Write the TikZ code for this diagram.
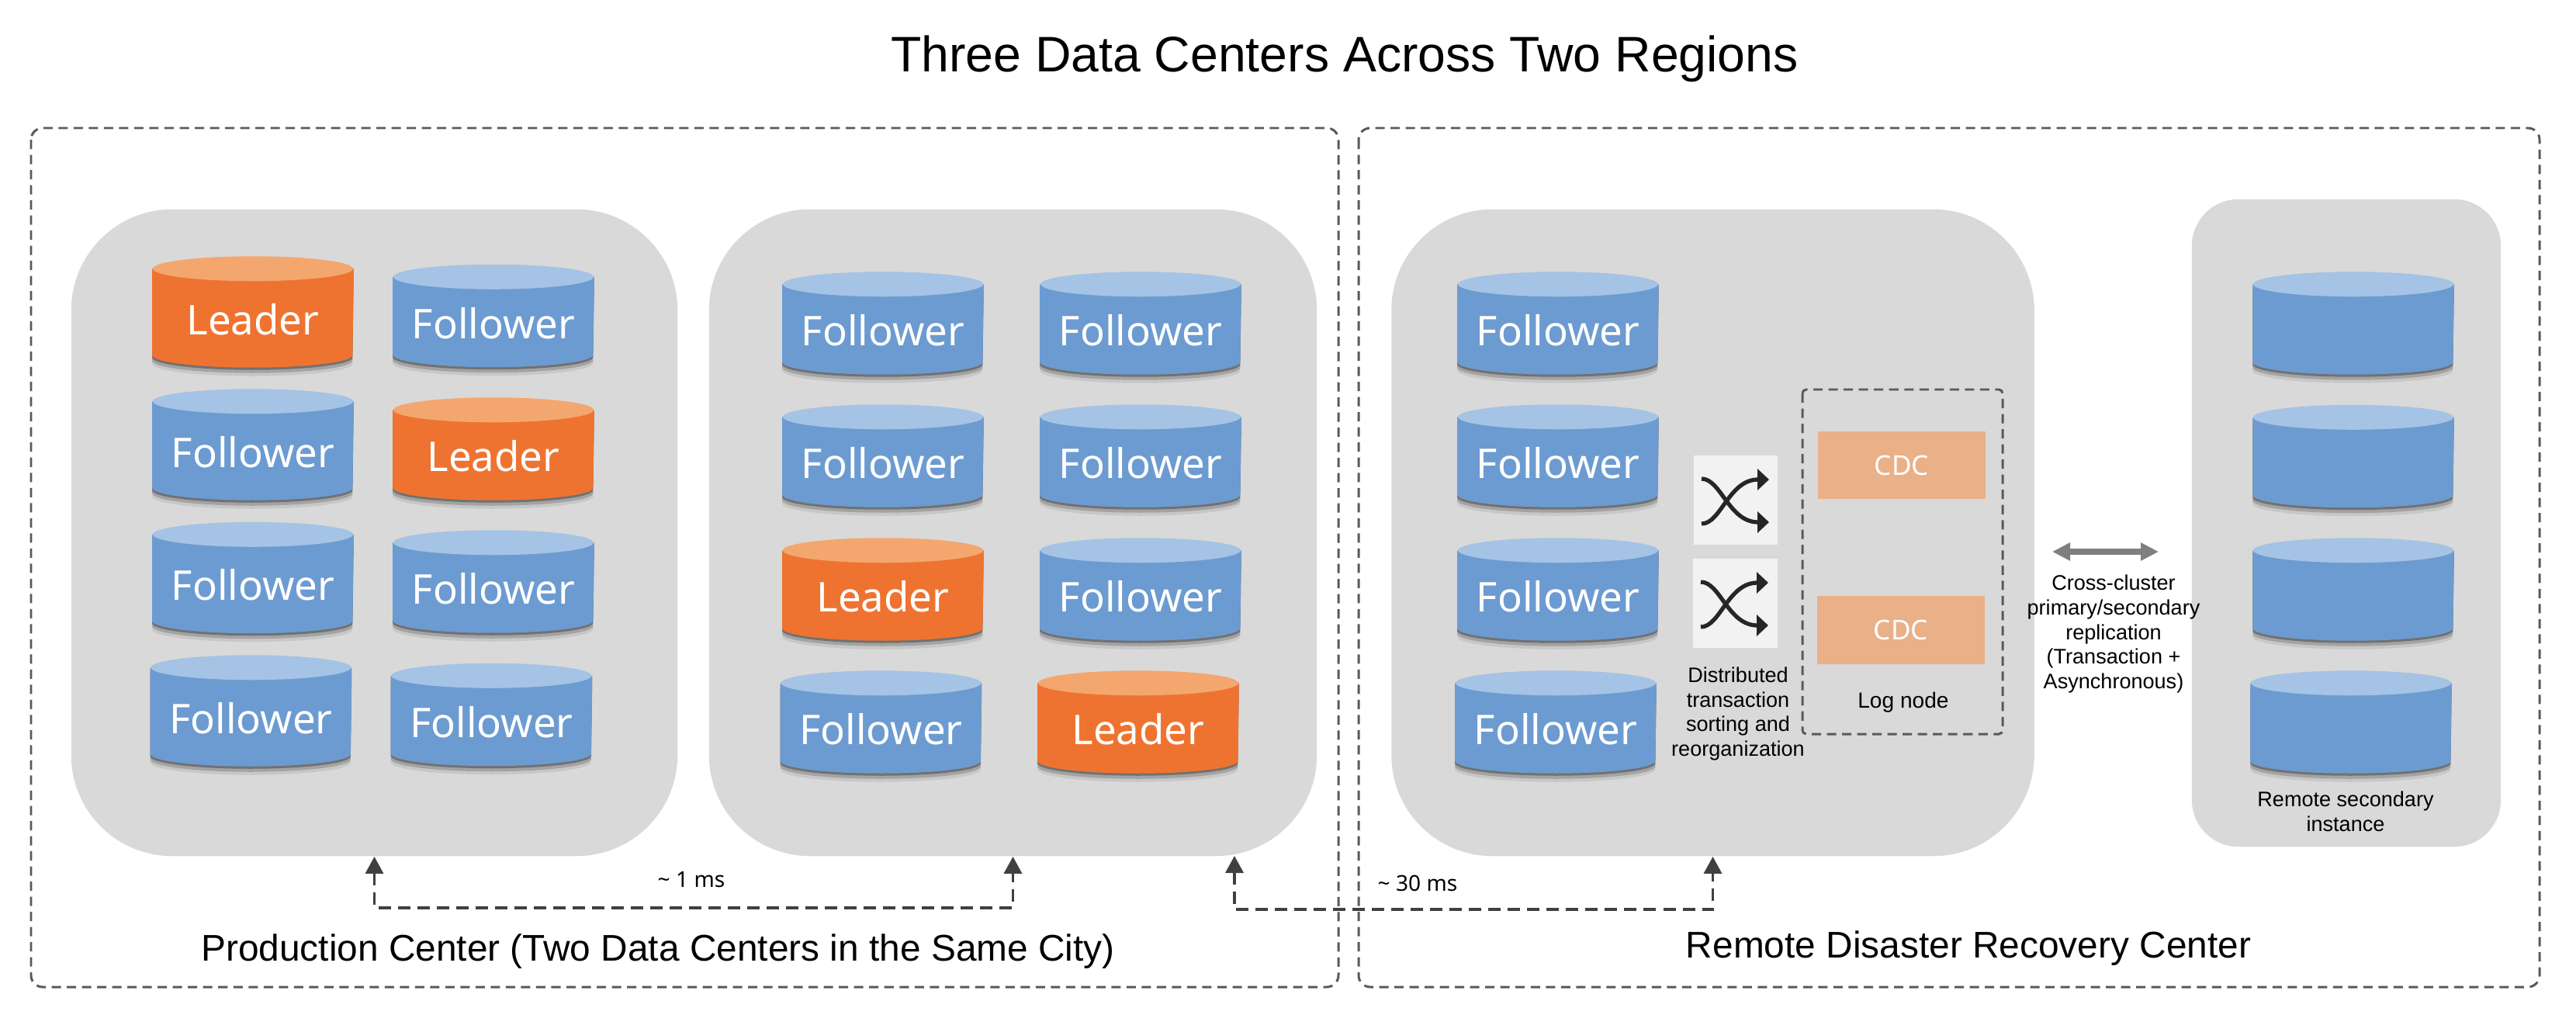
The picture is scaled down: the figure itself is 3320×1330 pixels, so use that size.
\documentclass[tikz,border=0pt]{standalone}
\usepackage{fontspec}
\usepackage{xcolor}
\usetikzlibrary{arrows.meta,shadows,calc}
\setmainfont{Liberation Sans}
\newfontfamily\dbfont{Noto Sans}
\definecolor{panelbg}{HTML}{D9D9D9}
\definecolor{blueside}{HTML}{6C9BD1}
\definecolor{bluetop}{HTML}{A5C3E4}
\definecolor{orangeside}{HTML}{EF7330}
\definecolor{orangetop}{HTML}{F3A76F}
\definecolor{cdcbg}{HTML}{EAB088}
\definecolor{tilebg}{HTML}{F2F2F2}
\definecolor{inkdark}{HTML}{262626}
\definecolor{linkdark}{HTML}{404040}
\definecolor{frameline}{HTML}{595959}
\definecolor{duplex}{HTML}{7F7F7F}
\tikzset{
  panel/.style={fill=panelbg, rounded corners=1.3cm, inner sep=0pt},
  frame/.style={draw=frameline, line width=0.85pt, dash pattern=on 1.2mm off 0.75mm, rounded corners=1.5mm},
  dbry/.store in=\dbry, dbry=0.16cm,
  dbshade/.style={
    general shadow={shadow yshift=-0.3mm, opacity=.3, fill=black},
    general shadow={shadow yshift=-0.7mm, opacity=.18, fill=black},
    general shadow={shadow yshift=-1.1mm, opacity=.08, fill=black}},
  db/.style 2 args={minimum width=2.58cm, minimum height=1.31cm, inner sep=0pt, text=white,
    text height=0.58cm, text depth=0cm, font=\dbfont\fontsize{15}{18}\selectfont,
    append after command={\pgfextra{
      \path[fill=#1, dbshade] ($(\tikzlastnode.north west)+(0pt,-\dbry)$)
        -- ($(\tikzlastnode.south west)+(0pt,\dbry)$)
        arc[start angle=180, end angle=360, x radius=1.29cm, y radius=\dbry]
        -- ($(\tikzlastnode.north east)+(0pt,-\dbry)$) -- cycle;
      \fill[#2] ($(\tikzlastnode.north)+(0pt,-\dbry)$) ellipse (1.29cm and \dbry);}}},
  tall/.style={minimum height=1.42cm, dbry=0.175cm},
  follower/.style={db={blueside}{bluetop}},
  leader/.style={db={orangeside}{orangetop}},
  link/.style={draw=linkdark, line width=1pt, dash pattern=on 1.6mm off 0.9mm, {Triangle[length=2.2mm,width=2.3mm]}-{Triangle[length=2.2mm,width=2.3mm]}},
  duplexarrow/.style={draw=duplex, line width=2pt, {Triangle[length=2.3mm,width=2.2mm]}-{Triangle[length=2.3mm,width=2.2mm]}},
  cdc/.style={fill=cdcbg, minimum width=2.16cm, minimum height=0.87cm, inner sep=0pt, text=white, font=\dbfont\fontsize{10}{12}\selectfont},
  tile/.style={fill=tilebg, minimum width=1.08cm, minimum height=1.15cm, inner sep=0pt},
  swap/.style={draw=inkdark, line width=1.5pt, -{Triangle[length=1.5mm,width=2.7mm]}},
  lab/.style={font=\fontsize{7.7}{9.05}\selectfont, align=center, inner sep=0pt},
  latency/.style={font=\dbfont\fontsize{8}{9}\selectfont, inner sep=0pt},
  heading/.style={font=\fontsize{13.6}{16}\selectfont, inner sep=0pt},
}
\begin{document}
\begin{tikzpicture}[x=0.01cm,y=-0.01cm]
  \useasboundingbox (0,0) rectangle (3320,1330);

  \node[font=\fontsize{18.3}{22}\selectfont, inner sep=0pt] (title) at (1733,76) {Three Data Centers Across Two Regions};

  \draw[frame] (40,165) rectangle (1725,1272);
  \draw[frame] (1751,165) rectangle (3273,1272);

  \node[panel, minimum width=7.81cm, minimum height=8.33cm] (panelA) at (482.5,686.5) {};
  \node[panel, minimum width=7.83cm, minimum height=8.33cm] (panelB) at (1305.5,686.5) {};
  \node[panel, minimum width=8.28cm, minimum height=8.33cm] (panelC) at (2207.5,686.5) {};
  \node[panel, minimum width=3.98cm, minimum height=8.34cm, rounded corners=0.6cm] (panelD) at (3024,674) {};

  % production center, first data center
  \node[leader,tall] (a11) at (326,402) {Leader};
  \node[follower] (a12) at (636,407) {Follower};
  \node[follower,tall] (a21) at (326,573) {Follower};
  \node[leader] (a22) at (636,578.5) {Leader};
  \node[follower,tall] (a31) at (326,744.5) {Follower};
  \node[follower] (a32) at (636,749.5) {Follower};
  \node[follower,tall] (a41) at (323.5,916) {Follower};
  \node[follower] (a42) at (633.5,921) {Follower};

  % production center, second data center
  \node[follower] (b11) at (1138,416.5) {Follower};
  \node[follower] (b12) at (1470,416.5) {Follower};
  \node[follower] (b21) at (1138,587.5) {Follower};
  \node[follower] (b22) at (1470,587.5) {Follower};
  \node[leader] (b31) at (1138,759.5) {Leader};
  \node[follower] (b32) at (1470,759.5) {Follower};
  \node[follower] (b41) at (1135.5,930.5) {Follower};
  \node[leader] (b42) at (1467,930.5) {Leader};

  % remote center
  \node[follower] (c1) at (2008,416.5) {Follower};
  \node[follower] (c2) at (2008,587.5) {Follower};
  \node[follower] (c3) at (2008,759.5) {Follower};
  \node[follower] (c4) at (2005,930.5) {Follower};

  \node[tile] (tileA) at (2237,644.5) {};
  \node[tile] (tileB) at (2236.5,777.5) {};
  \draw[swap] (2193,617) .. controls (2218,617) and (2228,673) .. (2280,673);
  \draw[swap] (2193,675) .. controls (2218,675) and (2228,618) .. (2280,618);
  \draw[swap] (2192,750) .. controls (2217,750) and (2227,806) .. (2279,806);
  \draw[swap] (2192,808) .. controls (2217,808) and (2227,751) .. (2279,751);
  \node[lab] (sortlab) at (2240,920) {Distributed\\transaction\\sorting and\\reorganization};

  \draw[frame, rounded corners=0.5mm] (2323,502) rectangle (2581,946);
  \node[cdc] (cdcA) at (2451,599.5) {CDC};
  \node[cdc] (cdcB) at (2450,812) {CDC};
  \node[lab, font=\fontsize{8}{9}\selectfont] (lognode) at (2453,905) {Log node};

  \coordinate (dupL) at (2645,711);
  \coordinate (dupR) at (2782,711);
  \draw[duplexarrow] (dupL) -- (dupR);
  \node[lab] (replab) at (2724,817) {Cross-cluster\\primary/secondary\\replication\\(Transaction +\\Asynchronous)};

  % secondary instance, no labels on the cylinders
  \node[follower] (d1) at (3033,416.5) {};
  \node[follower] (d2) at (3033,588) {};
  \node[follower] (d3) at (3033,759.5) {};
  \node[follower] (d4) at (3030,930.5) {};
  \node[lab] (seclab) at (3023,1046) {Remote secondary\\instance};

  % latency links
  \coordinate (tapB) at (1591,1103);
  \draw[link] (panelA.south) -- ++(0,66) -| (panelB.south);
  \draw[link] (tapB) -- ++(0,69) -| (panelC.south);
  \node[latency] (msA) at (891,1134) {\textasciitilde{} 1 ms};
  \node[latency] (msB) at (1827,1138) {\textasciitilde{} 30 ms};

  \node[heading] (prodlab) at (848,1226) {Production Center (Two Data Centers in the Same City)};
  \node[heading] (remotelab) at (2537,1222) {Remote Disaster Recovery Center};
\end{tikzpicture}
\end{document}
